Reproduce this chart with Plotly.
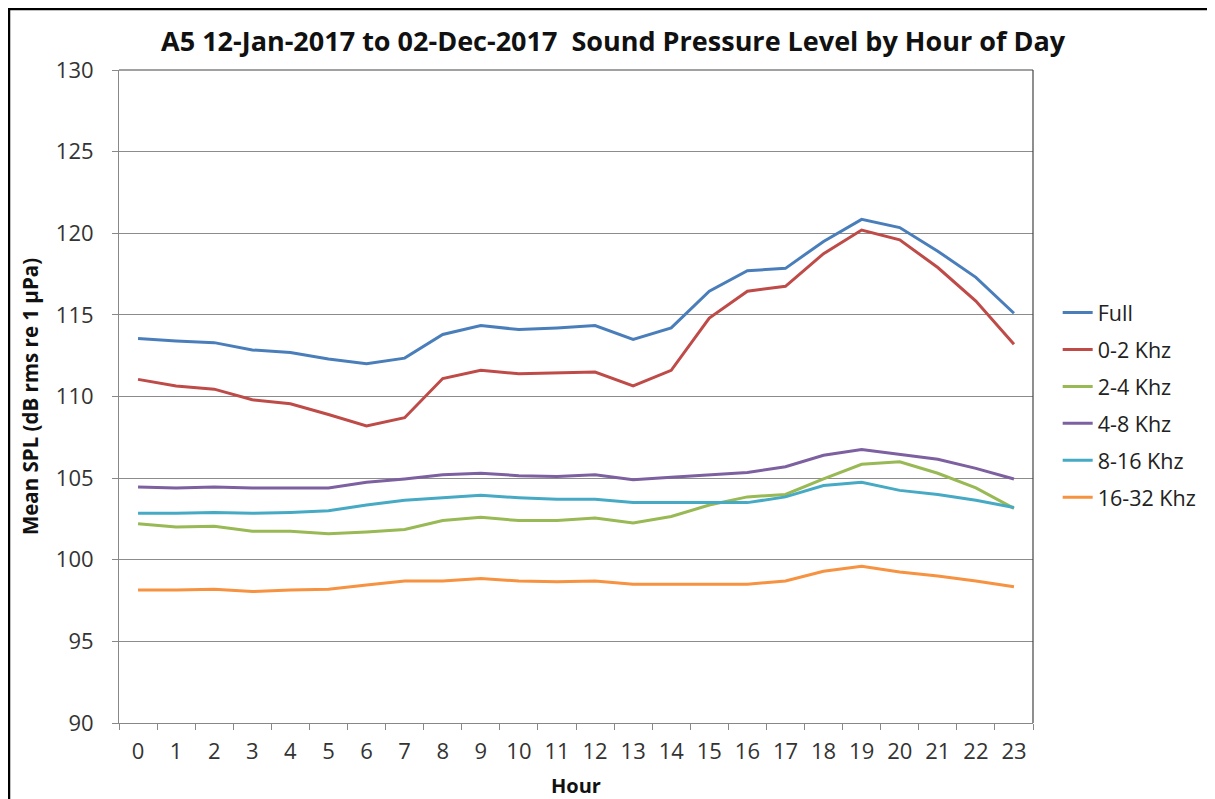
import plotly.graph_objects as go

hours = [str(h) for h in range(24)]

full = [113.55, 113.4, 113.3, 112.85, 112.7, 112.3, 112.0, 112.35, 113.8, 114.35, 114.1, 114.2,
        114.35, 113.5, 114.2, 116.45, 117.7, 117.85, 119.5, 120.85, 120.35, 118.9, 117.3, 115.1]
khz_0_2 = [111.05, 110.65, 110.45, 109.8, 109.55, 108.9, 108.2, 108.7, 111.1, 111.6, 111.4, 111.45,
           111.5, 110.65, 111.6, 114.8, 116.45, 116.75, 118.75, 120.2, 119.6, 117.9, 115.85, 113.2]
khz_2_4 = [102.2, 102.0, 102.05, 101.75, 101.75, 101.6, 101.7, 101.85, 102.4, 102.6, 102.4, 102.4,
           102.55, 102.25, 102.65, 103.35, 103.85, 104.0, 104.95, 105.85, 106.0, 105.3, 104.4, 103.15]
khz_4_8 = [104.45, 104.4, 104.45, 104.4, 104.4, 104.4, 104.75, 104.95, 105.2, 105.3, 105.15, 105.1,
           105.2, 104.9, 105.05, 105.2, 105.35, 105.7, 106.4, 106.75, 106.45, 106.15, 105.6, 104.95]
khz_8_16 = [102.85, 102.85, 102.9, 102.85, 102.9, 103.0, 103.35, 103.65, 103.8, 103.95, 103.8, 103.7,
            103.7, 103.5, 103.5, 103.5, 103.5, 103.85, 104.55, 104.75, 104.25, 104.0, 103.65, 103.2]
khz_16_32 = [98.15, 98.15, 98.2, 98.05, 98.15, 98.2, 98.45, 98.7, 98.7, 98.85, 98.7, 98.65,
             98.7, 98.5, 98.5, 98.5, 98.5, 98.7, 99.3, 99.6, 99.25, 99.0, 98.7, 98.35]

series_names = ["Full", "0-2 Khz", "2-4 Khz", "4-8 Khz", "8-16 Khz", "16-32 Khz"]
series_values = [full, khz_0_2, khz_2_4, khz_4_8, khz_8_16, khz_16_32]
colors = ["#4A7EBB", "#BE4B48", "#98B954", "#7D60A0", "#46AAC5", "#F69240"]

fig = go.Figure()
for name, vals, col in zip(series_names, series_values, colors):
    fig.add_trace(go.Scatter(x=hours, y=vals, name=name, mode="lines",
                             line=dict(color=col, width=3), legendgroup=name))

FONT = "Open Sans"
L, T, PW, PH = 111, 62, 914, 653
fig.update_layout(
    width=1215, height=799, autosize=False,
    margin=dict(l=L, r=1215 - L - PW, t=T, b=799 - T - PH, autoexpand=False),
    paper_bgcolor="white", plot_bgcolor="white",
    font=dict(family=FONT, color="#333333"),
    title=dict(text="<b>A5 12-Jan-2017 to 02-Dec-2017  Sound Pressure Level by Hour of Day</b>",
               x=0.498, xanchor="center", y=1 - 34 / 799, yanchor="middle",
               font=dict(family=FONT, size=27, color="#111111")),
    xaxis=dict(type="category", range=[-0.5, 23.5], tickson="boundaries", ticks="outside",
               ticklen=6, tickcolor="#888888", showline=True, linecolor="#888888", linewidth=1,
               showgrid=False, tickfont=dict(size=22, color="#333333"), ticklabelstandoff=9,
               title=dict(text="<b>Hour</b>", font=dict(size=20, color="#111111"), standoff=14)),
    yaxis=dict(range=[90, 130], dtick=5, ticks="outside", ticklen=6, tickcolor="#888888",
               showline=True, linecolor="#888888", linewidth=1,
               showgrid=True, gridcolor="#8c8c8c", gridwidth=1, zeroline=False,
               tickfont=dict(size=22, color="#333333"), ticklabelstandoff=14,
               title=dict(text="<b>Mean SPL (dB rms re 1 µPa)</b>",
                          font=dict(size=20.5, color="#111111"), standoff=11)),
    legend=dict(x=1.027, xanchor="left", y=0.66, yanchor="top",
                font=dict(size=21.5, color="#222222"), traceorder="grouped",
                tracegroupgap=6, bgcolor="rgba(0,0,0,0)", itemwidth=30),
    showlegend=True,
)

# plot area border (top and right)
fig.add_shape(type="line", xref="paper", yref="paper", x0=0, x1=1, y0=1, y1=1,
              line=dict(color="#444444", width=1.2))
fig.add_shape(type="line", xref="paper", yref="paper", x0=1, x1=1, y0=0, y1=1,
              line=dict(color="#444444", width=1.2))
# outer frame (top and left edges of the figure)
fx = lambda px: (px - L) / PW
fy = lambda py: 1 - (py - T) / PH
fig.add_shape(type="line", xref="paper", yref="paper",
              x0=fx(0), x1=fx(1215), y0=fy(1), y1=fy(1),
              line=dict(color="black", width=2.5))
fig.add_shape(type="line", xref="paper", yref="paper",
              x0=fx(1), x1=fx(1), y0=fy(0), y1=fy(799),
              line=dict(color="black", width=2.5))

fig.write_html("out.html")
